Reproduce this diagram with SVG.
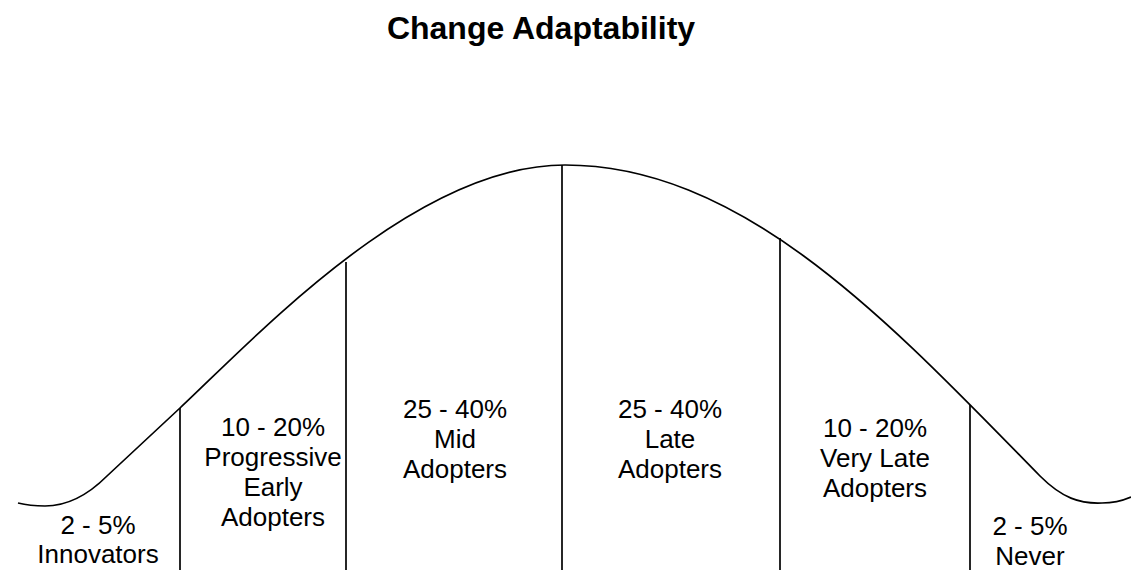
<svg xmlns="http://www.w3.org/2000/svg" width="1131" height="570" viewBox="0 0 1131 570">
<style>
.t{font-family:"Liberation Sans",Arial,sans-serif;font-size:26px;fill:#000;text-anchor:middle}
.title{font-family:"Liberation Sans",Arial,sans-serif;font-size:32px;font-weight:bold;fill:#000;text-anchor:middle}
.ln{stroke:#000;stroke-width:1.7;fill:none}
</style>
<rect width="1131" height="570" fill="#fff"/>
<text class="title" x="541" y="39">Change Adaptability</text>
<g id="connectors">
<path id="curve" class="ln" d="M18,503 Q30,506 45,506 C70,506 90,493 107,476 L180,408 C257,336 415,165 565,165 C745,165 893,326 1040,476 C1062,498 1080,504 1102,503 C1115,503 1124,500 1131,497"/>
<line class="ln" x1="180" y1="408" x2="180" y2="570"/>
<line class="ln" x1="346" y1="262" x2="346" y2="570"/>
<line class="ln" x1="562" y1="165" x2="562" y2="570"/>
<line class="ln" x1="780" y1="238" x2="780" y2="570"/>
<line class="ln" x1="970" y1="405" x2="970" y2="570"/>
</g>
<g id="innovators"><text class="t" x="98" y="534">2 - 5%</text><text class="t" x="98" y="563">Innovators</text></g>
<g id="early"><text class="t" x="273" y="436">10 - 20%</text><text class="t" x="273" y="466">Progressive</text><text class="t" x="273" y="496">Early</text><text class="t" x="273" y="526">Adopters</text></g>
<g id="mid"><text class="t" x="455" y="418">25 - 40%</text><text class="t" x="455" y="448">Mid</text><text class="t" x="455" y="478">Adopters</text></g>
<g id="late"><text class="t" x="670" y="418">25 - 40%</text><text class="t" x="670" y="448">Late</text><text class="t" x="670" y="478">Adopters</text></g>
<g id="verylate"><text class="t" x="875" y="437">10 - 20%</text><text class="t" x="875" y="467">Very Late</text><text class="t" x="875" y="497">Adopters</text></g>
<g id="never"><text class="t" x="1030" y="535">2 - 5%</text><text class="t" x="1030" y="565">Never</text></g>
</svg>
